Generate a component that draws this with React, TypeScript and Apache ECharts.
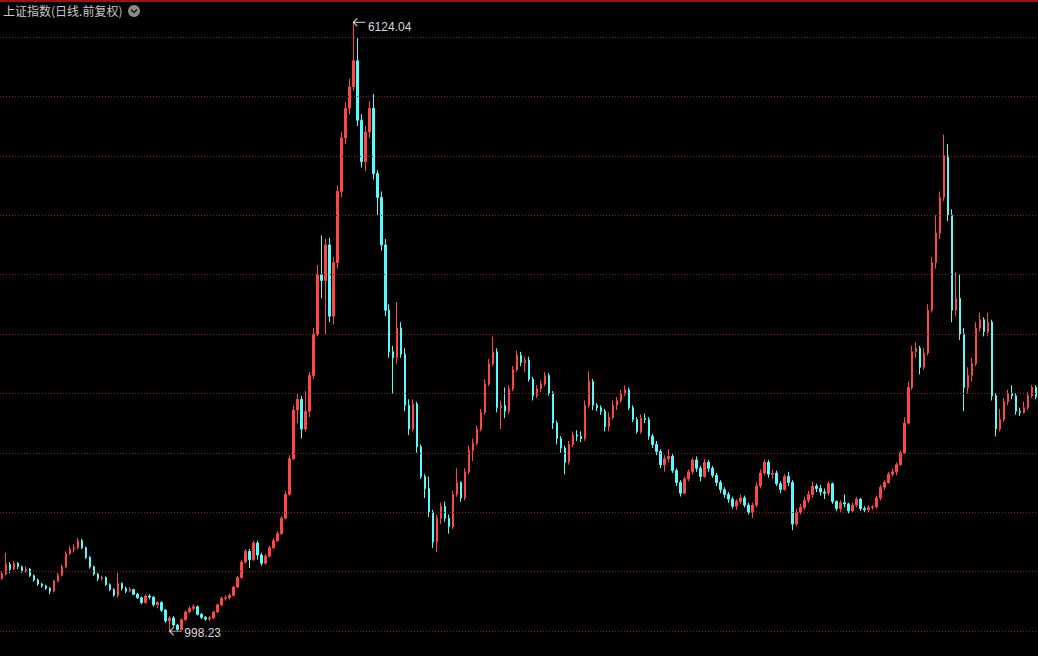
import React, { useEffect, useRef } from "react";
import * as echarts from "echarts";

const TITLE = "上证指数(日线.前复权)";

// Candles as [open, close, low, high], roughly 4 trading-day-buckets per candle
const seg2003to2005: number[][] = [
  [1440, 1480, 1430, 1500], [1480, 1560, 1470, 1657], [1560, 1520, 1488, 1580], [1520, 1570, 1510, 1590],
  [1570, 1540, 1520, 1580], [1540, 1505, 1490, 1550], [1505, 1520, 1490, 1545], [1520, 1465, 1455, 1530],
  [1465, 1430, 1415, 1475], [1430, 1395, 1380, 1440], [1395, 1380, 1365, 1405], [1380, 1360, 1345, 1390],
  [1360, 1335, 1310, 1370], [1335, 1420, 1325, 1430], [1420, 1470, 1410, 1490], [1470, 1540, 1460, 1560],
  [1540, 1650, 1530, 1670], [1650, 1690, 1640, 1715], [1690, 1700, 1660, 1730], [1700, 1760, 1690, 1783],
  [1760, 1700, 1690, 1775], [1700, 1620, 1605, 1710], [1620, 1540, 1525, 1630], [1540, 1480, 1465, 1550],
  [1480, 1440, 1420, 1490], [1440, 1450, 1425, 1465], [1450, 1390, 1380, 1460], [1390, 1350, 1335, 1400],
  [1350, 1300, 1290, 1360], [1300, 1400, 1280, 1488], [1400, 1360, 1340, 1410], [1360, 1335, 1320, 1375],
  [1335, 1350, 1325, 1370], [1350, 1310, 1300, 1355], [1310, 1280, 1270, 1320], [1280, 1240, 1225, 1290],
  [1240, 1295, 1230, 1310], [1295, 1285, 1265, 1310], [1285, 1220, 1205, 1295], [1220, 1240, 1190, 1250],
  [1240, 1175, 1160, 1250], [1175, 1085, 1070, 1185], [1085, 1110, 998.23, 1125], [1110, 1050, 1035, 1125],
  [1050, 1012, 1003, 1060], [1012, 1095, 1004, 1105], [1095, 1160, 1085, 1175], [1160, 1190, 1150, 1210],
  [1190, 1205, 1175, 1225], [1205, 1140, 1130, 1215], [1140, 1115, 1100, 1150], [1115, 1100, 1085, 1125],
  [1100, 1110, 1085, 1125], [1110, 1160, 1100, 1170], [1160, 1220, 1150, 1230], [1220, 1275, 1210, 1290],
  [1275, 1280, 1255, 1300], [1280, 1300, 1265, 1315], [1300, 1370, 1290, 1380], [1370, 1450, 1360, 1465],
  [1450, 1580, 1440, 1600], [1580, 1670, 1570, 1690],
];

const seg2006to2008: number[][] = [
  [1670, 1600, 1530, 1690], [1600, 1740, 1590, 1760], [1740, 1640, 1600, 1760], [1640, 1570, 1550, 1660],
  [1570, 1630, 1560, 1650], [1630, 1700, 1620, 1720], [1700, 1760, 1690, 1780], [1760, 1820, 1750, 1840],
  [1820, 1950, 1810, 1970], [1950, 2150, 1940, 2180], [2150, 2450, 2140, 2480], [2450, 2860, 2440, 2900],
  [2860, 2950, 2750, 3000], [2950, 2700, 2620, 2980], [2700, 2850, 2680, 3020], [2850, 3150, 2800, 3180],
  [3150, 3500, 3120, 3550], [3500, 4000, 3480, 4080], [4000, 3950, 3800, 4330], [3950, 4250, 3500, 4300],
  [4250, 3650, 3600, 4310], [3650, 4100, 3580, 4150], [4100, 4700, 4050, 4750], [4700, 5150, 4650, 5200],
  [5150, 5400, 5100, 5450], [5400, 5580, 5350, 5650], [5580, 5800, 5550, 6124.04], [5800, 5300, 5250, 5990],
  [5300, 4950, 4900, 5350], [4950, 5200, 4870, 5250], [5200, 5400, 5150, 5460], [5400, 4850, 4800, 5520],
  [4850, 4650, 4500, 4880], [4650, 4250, 4200, 4700], [4250, 3700, 3650, 4300], [3700, 3350, 3300, 3750],
  [3350, 3300, 3000, 3400], [3300, 3550, 3250, 3770], [3550, 3330, 3300, 3600], [3330, 2900, 2850, 3380],
  [2900, 2700, 2650, 2950], [2700, 2910, 2680, 2950], [2910, 2550, 2500, 2930], [2550, 2300, 2280, 2570],
  [2300, 2200, 2120, 2320], [2200, 2000, 1960, 2300], [2000, 1750, 1700, 2020], [1750, 1950, 1664, 1980],
];

const seg2009to2012: number[][] = [
  [1950, 2050, 1900, 2080], [2050, 1950, 1920, 2090], [1950, 1880, 1820, 1980], [1880, 2150, 1860, 2180],
  [2150, 2250, 2130, 2370], [2250, 2120, 2090, 2260], [2120, 2340, 2100, 2370], [2340, 2520, 2320, 2560],
  [2520, 2580, 2430, 2620], [2580, 2700, 2560, 2730], [2700, 2840, 2680, 2870], [2840, 3080, 2820, 3120],
  [3080, 3250, 3060, 3290], [3250, 3350, 3230, 3478], [3350, 2880, 2840, 3380], [2880, 2900, 2700, 2940],
  [2900, 2850, 2790, 3050], [2850, 3040, 2830, 3070], [3040, 3200, 3020, 3230], [3200, 3320, 3180, 3360],
  [3320, 3260, 3230, 3350], [3260, 3280, 3180, 3310], [3280, 3120, 3100, 3310], [3120, 2980, 2940, 3140],
  [2980, 3040, 2960, 3070], [3040, 3080, 3010, 3110], [3080, 3150, 3060, 3181], [3150, 3000, 2980, 3170],
  [3000, 2750, 2700, 3020], [2750, 2620, 2570, 2770], [2620, 2540, 2500, 2640], [2540, 2420, 2319, 2560],
  [2420, 2570, 2400, 2600], [2570, 2650, 2550, 2680], [2650, 2640, 2600, 2690], [2640, 2620, 2590, 2680],
  [2620, 2900, 2600, 2940], [2900, 3100, 2880, 3186], [3100, 2900, 2860, 3120], [2900, 2880, 2850, 2920],
  [2880, 2850, 2820, 2900], [2850, 2720, 2680, 2870], [2720, 2800, 2680, 2840], [2800, 2900, 2780, 2940],
  [2900, 2940, 2860, 2970], [2940, 3000, 2920, 3030], [3000, 3030, 2980, 3067], [3030, 2880, 2860, 3050],
  [2880, 2780, 2760, 2900], [2780, 2680, 2660, 2800], [2680, 2790, 2660, 2820], [2790, 2780, 2750, 2830],
  [2780, 2640, 2610, 2800], [2640, 2570, 2540, 2660], [2570, 2510, 2480, 2600], [2510, 2400, 2370, 2530],
  [2400, 2450, 2340, 2480], [2450, 2470, 2420, 2530], [2470, 2350, 2330, 2490], [2350, 2250, 2220, 2370],
  [2250, 2160, 2132, 2270], [2160, 2280, 2150, 2300], [2280, 2340, 2260, 2360], [2340, 2440, 2320, 2460],
  [2440, 2370, 2340, 2470], [2370, 2300, 2260, 2390], [2300, 2420, 2290, 2450], [2420, 2370, 2340, 2440],
  [2370, 2310, 2290, 2390], [2310, 2250, 2220, 2330], [2250, 2190, 2160, 2270], [2190, 2150, 2120, 2210],
  [2150, 2110, 2080, 2170], [2110, 2050, 2030, 2130], [2050, 2090, 2020, 2110], [2090, 2120, 2070, 2150],
  [2120, 2060, 2040, 2140], [2060, 2000, 1980, 2080], [2000, 2060, 1949, 2080],
];

const seg2013to2014: number[][] = [
  [2060, 2220, 2040, 2250], [2220, 2330, 2200, 2360], [2330, 2420, 2310, 2444], [2420, 2320, 2290, 2440],
  [2320, 2330, 2280, 2360], [2330, 2240, 2220, 2350], [2240, 2190, 2160, 2260], [2190, 2300, 2180, 2320],
  [2300, 2250, 2220, 2340], [2250, 1900, 1849, 2270], [1900, 2000, 1880, 2030], [2000, 2040, 1980, 2070],
  [2040, 2100, 2020, 2130], [2100, 2150, 2080, 2180], [2150, 2220, 2120, 2260], [2220, 2200, 2170, 2240],
  [2200, 2170, 2140, 2230], [2170, 2160, 2110, 2200], [2160, 2240, 2140, 2260], [2240, 2090, 2070, 2250],
  [2090, 2030, 2010, 2100], [2030, 2080, 2000, 2100], [2080, 2070, 2040, 2150], [2070, 2010, 1990, 2080],
  [2010, 2060, 2000, 2080], [2060, 2110, 2040, 2130], [2110, 2030, 2010, 2120], [2030, 2020, 2000, 2050],
  [2020, 2040, 2000, 2060], [2040, 2045, 2020, 2060], [2045, 2120, 2030, 2140], [2120, 2210, 2100, 2230],
  [2210, 2250, 2190, 2270], [2250, 2320, 2240, 2340], [2320, 2340, 2300, 2370], [2340, 2400, 2310, 2420],
  [2400, 2500, 2390, 2520],
];

const seg2014to2016: number[][] = [
  [2500, 2750, 2490, 2800], [2750, 3050, 2740, 3100], [3050, 3350, 3030, 3400], [3350, 3380, 3300, 3430],
  [3380, 3220, 3160, 3400], [3220, 3340, 3200, 3380], [3340, 3700, 3320, 3750], [3700, 4100, 3680, 4150],
  [4100, 4350, 4050, 4500], [4350, 4650, 4300, 4700], [4650, 5000, 4620, 5178.19], [5000, 4500, 4450, 5100],
  [4500, 3700, 3600, 4550], [3700, 3800, 3650, 4020], [3800, 3500, 3450, 4000], [3500, 3050, 2850, 3550],
  [3050, 3150, 3000, 3220], [3150, 3250, 3100, 3300], [3250, 3550, 3230, 3600], [3550, 3620, 3520, 3680],
  [3620, 3520, 3480, 3640], [3520, 3600, 3480, 3680], [3600, 2980, 2940, 3620], [2980, 2700, 2638, 3000],
  [2700, 2780, 2680, 2870], [2780, 2930, 2760, 2960], [2930, 3000, 2900, 3030], [3000, 2980, 2950, 3070],
  [2980, 2850, 2820, 3000], [2850, 2840, 2810, 2880], [2840, 2880, 2830, 2930], [2880, 2980, 2860, 3010],
  [2980, 3050, 2960, 3070], [3050, 2970, 2950, 3070],
];

// Horizontal reference levels (dotted red lines)
const GRID_LEVELS = [1000, 1500, 2000, 2500, 3000, 3500, 4000, 4500, 5000, 5500, 6000];
const Y_MIN = 789.6;
const Y_MAX = 6311.4;

export default function App() {
  const ref = useRef<HTMLDivElement>(null);

  useEffect(() => {
    if (!ref.current) return;
    const chart = echarts.init(ref.current, undefined, { renderer: "svg" });

    const candles = [
      ...seg2003to2005,
      ...seg2006to2008,
      ...seg2009to2012,
      ...seg2013to2014,
      ...seg2014to2016,
    ];
    const categories = candles.map((_, i) => String(i));

    let hiIdx = 0;
    let loIdx = 0;
    candles.forEach((c, i) => {
      if (c[3] > candles[hiIdx][3]) hiIdx = i;
      if (c[2] < candles[loIdx][2]) loIdx = i;
    });
    const hiVal = candles[hiIdx][3];
    const loVal = candles[loIdx][2];

    const markColor = "#d8d8d8";

    chart.setOption({
      animation: false,
      backgroundColor: "#000000",
      textStyle: { fontFamily: "Liberation Sans" },
      title: {
        text: TITLE,
        left: 3,
        top: 4,
        padding: 0,
        textStyle: {
          color: "#c8c8c8",
          fontSize: 12,
          fontWeight: "normal",
          fontFamily: "Noto Sans CJK SC",
        },
      },
      graphic: [
        {
          type: "rect",
          shape: { x: 0, y: 0, width: 1038, height: 2 },
          style: { fill: "#9a1414" },
          silent: true,
        },
        {
          type: "circle",
          shape: { cx: 134, cy: 11, r: 6 },
          style: { fill: "#8a8a8a" },
          silent: true,
        },
        {
          type: "polyline",
          shape: { points: [[131, 9.5], [134, 12.5], [137, 9.5]] },
          style: { stroke: "#1c1c1c", lineWidth: 1.5, fill: "none" },
          silent: true,
        },
      ],
      grid: { left: 0, right: 0, top: 0, bottom: 0, containLabel: false },
      xAxis: {
        type: "category",
        data: categories,
        boundaryGap: true,
        axisLine: { show: false },
        axisTick: { show: false },
        axisLabel: { show: false },
        splitLine: { show: false },
      },
      yAxis: {
        type: "value",
        min: Y_MIN,
        max: Y_MAX,
        axisLine: { show: false },
        axisTick: { show: false },
        axisLabel: { show: false },
        splitLine: { show: false },
      },
      series: [
        {
          type: "candlestick",
          data: candles,
          barWidth: 2,
          itemStyle: {
            color: "#ff4646",
            color0: "#54fcfc",
            borderColor: "#ff4646",
            borderColor0: "#54fcfc",
            borderWidth: 1,
          },
          markLine: {
            silent: true,
            symbol: ["none", "none"],
            label: { show: false },
            lineStyle: { color: "#8c1c1c", type: [1, 2], width: 1 },
            data: GRID_LEVELS.map((v) => ({ yAxis: v })),
          },
          markPoint: {
            symbol: "path://M4,0 L0,4 L4,8 M0,4 L12,4",
            symbolSize: [12, 8],
            symbolOffset: [6, 0],
            silent: true,
            itemStyle: { color: "rgba(0,0,0,0)", borderColor: markColor, borderWidth: 1 },
            label: {
              show: true,
              position: "right",
              distance: 2,
              color: markColor,
              fontSize: 12,
              fontFamily: "Liberation Sans",
              formatter: (p: any) => Number(p.value).toFixed(2),
            },
            data: [
              { coord: [categories[hiIdx], hiVal], value: hiVal, label: { offset: [0, 5] } },
              { coord: [categories[loIdx], loVal], value: loVal, label: { offset: [0, 2] } },
            ],
          },
        },
      ],
    });

    return () => chart.dispose();
  }, []);

  return (
    <div
      ref={ref}
      style={{
        position: "fixed",
        left: 0,
        top: 0,
        width: 1038,
        height: 656,
        background: "#000",
      }}
    />
  );
}
